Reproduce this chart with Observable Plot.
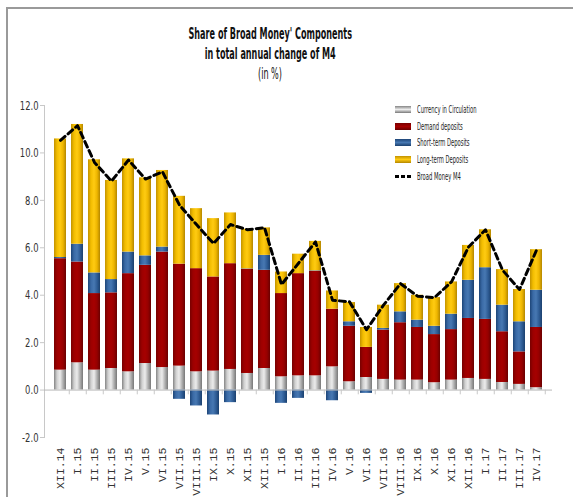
<!DOCTYPE html>
<html><head><meta charset="utf-8">
<script src="https://cdn.jsdelivr.net/npm/d3@7"></script>
<script src="https://cdn.jsdelivr.net/npm/@observablehq/plot@0.6"></script>
<style>
body{margin:0;background:#fff;}
#wrap{position:relative;width:573px;height:497px;overflow:hidden;background:#fff;}
#border{position:absolute;left:6px;top:7px;width:600px;height:600px;border-left:2px solid #9a9a9a;border-top:2px solid #9a9a9a;}
#title{position:absolute;left:0;width:540px;top:24px;text-align:center;font-family:"Liberation Sans Narrow","DejaVu Sans Condensed",sans-serif;font-size:15px;line-height:20px;color:#111;}
#title .l{display:inline-block;transform:scaleX(0.6);white-space:nowrap;}
#title .b{font-weight:bold;}
#chart{position:absolute;left:0;top:85px;}
#legend{position:absolute;left:395px;top:101px;font-family:"Liberation Sans Narrow","DejaVu Sans Condensed",sans-serif;font-size:10px;color:#222;}
#legend .row{height:16.8px;display:flex;align-items:center;white-space:nowrap;}
#legend .sw{width:16px;height:7px;margin-right:6px;box-sizing:border-box;}
#legend .txt{display:inline-block;transform:scaleX(0.58);transform-origin:left center;}
</style>
</head><body>
<div id="wrap">
  <div id="border"></div>
  <div id="title">
    <span class="l b">Share of Broad Money' Components</span><br>
    <span class="l b">in total annual change of M4</span><br>
    <span class="l">(in %)</span>
  </div>
  <div id="chart"></div>
  <div id="legend"></div>
</div>
<script>
const months = ["XII.14","I.15","II.15","III.15","IV.15","V.15","VI.15","VII.15","VIII.15","IX.15","X.15","XI.15","XII.15","I.16","II.16","III.16","IV.16","V.16","VI.16","VII.16","VIII.16","IX.16","X.16","XI.16","XII.16","I.17","II.17","III.17","IV.17"];
const currency  = [0.84,1.15,0.84,0.91,0.77,1.12,0.95,1.01,0.77,0.80,0.87,0.70,0.91,0.56,0.60,0.60,0.98,0.35,0.53,0.45,0.42,0.42,0.31,0.42,0.49,0.45,0.32,0.24,0.10];
const demand    = [4.70,4.25,3.23,3.19,4.14,4.14,4.87,4.30,4.35,3.97,4.46,4.39,4.14,3.51,4.31,4.41,2.43,2.34,1.27,2.08,2.42,2.22,2.03,2.13,2.53,2.53,2.14,1.37,2.54];
const shortTerm = [0.05,0.75,0.87,0.56,0.91,0.40,0.21,-0.39,-0.67,-1.05,-0.53,0.02,0.63,-0.56,-0.35,0.02,-0.45,0.19,-0.14,0.07,0.46,0.31,0.35,0.65,1.61,2.18,1.12,1.27,1.57];
const longTerm  = [5.00,5.05,4.77,4.18,3.93,3.29,3.23,2.86,2.53,2.46,2.14,1.67,1.16,0.91,0.82,1.24,0.77,0.81,0.84,0.98,1.19,1.05,1.21,1.36,1.47,1.60,1.50,1.36,1.71];
const broadMoney = [10.53,11.15,9.60,8.81,9.70,8.90,9.20,7.80,6.98,6.18,6.98,6.76,6.85,4.45,5.35,6.25,3.79,3.72,2.55,3.58,4.49,3.96,3.90,4.56,6.03,6.76,5.06,4.24,5.90];
const seriesNames = ["Currency in Circulation","Demand deposits","Short-term Deposits","Long-term Deposits"];
const lineName = "Broad Money M4";
const yTicks = [-2,0,2,4,6,8,10,12];

const seriesValues = [currency, demand, shortTerm, longTerm];
const gradients = [
  {id:"gCur", stops:["#858585","#d0d0d0","#ececec","#b0b0b0","#787878"]},
  {id:"gDem", stops:["#780000","#9c0000","#a60000","#960000","#6a0000"]},
  {id:"gSho", stops:["#1d4577","#3a6aa6","#4778b2","#2f5d96","#1b406e"]},
  {id:"gLon", stops:["#c29200","#f2bd00","#ffcb12","#eeb600","#b48700"]}
];
const tidy = seriesNames.flatMap((s,i)=>months.map((m,j)=>({month:m, series:s, value:seriesValues[i][j]})));
const lineData = months.map((m,i)=>({month:m, value:broadMoney[i]}));

const plot = Plot.plot({
  width:573, height:412,
  marginLeft:44, marginRight:21, marginTop:20, marginBottom:60,
  style:{fontFamily:"'Liberation Sans Narrow','DejaVu Sans Condensed',sans-serif", background:"transparent"},
  x:{domain:months, padding:0.3, label:null},
  y:{domain:[-2,12], label:null},
  color:{domain:seriesNames, range:gradients.map(g=>`url(#${g.id})`)},
  marks:[
    Plot.frame({anchor:"left", stroke:"#c8c8c8"}),
    Plot.barY(tidy, {x:"month", y:"value", fill:"series"}),
    Plot.ruleY([0], {stroke:"#b8b8b8"}),
    Plot.ruleX(months, {x:d=>d, y1:0, y2:-0.2, dx:8.75, stroke:"#c8c8c8"}),
    Plot.line(lineData, {x:"month", y:"value", stroke:"#000", strokeWidth:3, strokeDasharray:"6,4"}),
    Plot.axisY({ticks:yTicks, tickFormat:d=>d.toFixed(1), tickSize:4, tickPadding:2, fontSize:13, stroke:"#c8c8c8", fill:"#333"}),
    Plot.axisX({tickRotate:-90, tickSize:0, tickPadding:10, fontSize:11.5, fontFamily:"'Liberation Mono','DejaVu Sans Mono',monospace", fill:"#333"})
  ]
});
const defs = d3.select(plot).insert("defs", ":first-child");
gradients.forEach(g=>{
  const lg = defs.append("linearGradient").attr("id", g.id).attr("x1","0").attr("x2","1").attr("y1","0").attr("y2","0");
  g.stops.forEach((c,k)=>lg.append("stop").attr("offset", k/(g.stops.length-1)).attr("stop-color", c));
});
// horizontally condense y tick labels
d3.select(plot).selectAll('g[aria-label="y-axis tick label"] text').each(function(){
  const t = this.getAttribute("transform") || "";
  this.setAttribute("transform", t + " scale(0.72,1)");
});
document.getElementById("chart").appendChild(plot);

const legend = d3.select("#legend");
seriesNames.forEach((s,i)=>{
  const r = legend.append("div").attr("class","row");
  const st = gradients[i].stops;
  r.append("div").attr("class","sw").style("background",`linear-gradient(to bottom, ${st[0]}, ${st[2]} 50%, ${st[4]})`);
  r.append("span").attr("class","txt").text(s);
});
const lr = legend.append("div").attr("class","row");
lr.append("div").attr("class","sw").style("height","3px").style("background","repeating-linear-gradient(to right,#000 0 4px,transparent 4px 6px)");
lr.append("span").attr("class","txt").text(lineName);
</script>
</body></html>
